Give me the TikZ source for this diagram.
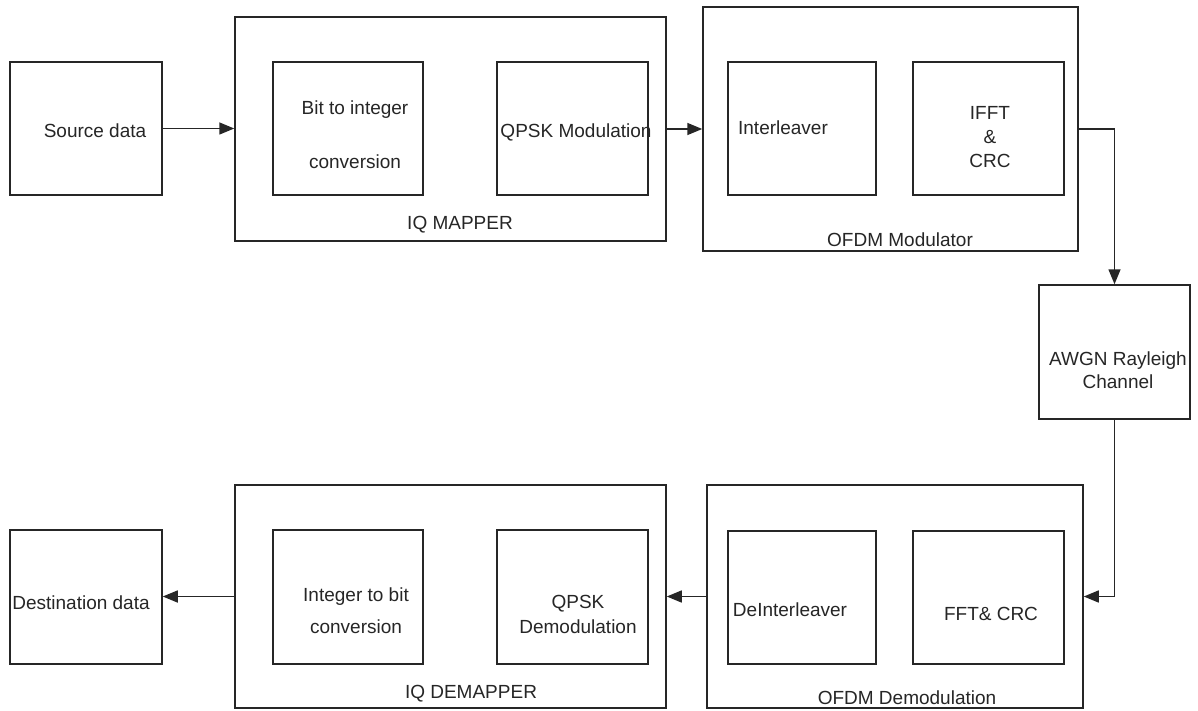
\documentclass[tikz,border=0pt]{standalone}
\usepackage{fontspec}
\setmainfont{Liberation Sans}
\usetikzlibrary{arrows.meta}

\tikzset{
  blk/.style={draw=black!85,line width=1.5pt,inner sep=0pt},
  txt/.style={font=\fontsize{19}{23}\selectfont,text=black!85,inner sep=0pt,align=center},
  flow/.style={draw=black!85,line width=1.5pt,-{Triangle[length=15pt,width=12pt]}}
}

\begin{document}
\begin{tikzpicture}[x=1pt,y=-1pt]
      \useasboundingbox[fill=white] (0,0) rectangle (1198,711);

      % transmitter
      \node[blk,minimum width=152,minimum height=133] (src) at (86,128.5) {};
      \node[blk,minimum width=431,minimum height=224] (iqm) at (450.5,129) {};
      \node[blk,minimum width=150,minimum height=133] (b2i) at (348,128.5) {};
      \node[blk,minimum width=151,minimum height=133] (qpsk) at (572.5,128.5) {};
      \node[blk,minimum width=375,minimum height=244] (ofdm) at (890.5,129) {};
      \node[blk,minimum width=148,minimum height=133] (intl) at (802,128.5) {};
      \node[blk,minimum width=151,minimum height=133] (ifft) at (988.5,128.5) {};

      % channel
      \node[blk,minimum width=151,minimum height=134] (chan) at (1114.5,352) {};

      % receiver
      \node[blk,minimum width=152,minimum height=134] (dst) at (86,597) {};
      \node[blk,minimum width=431,minimum height=223] (iqd) at (450.5,596.5) {};
      \node[blk,minimum width=150,minimum height=134] (i2b) at (348,597) {};
      \node[blk,minimum width=151,minimum height=134] (qdem) at (572.5,597) {};
      \node[blk,minimum width=376,minimum height=223] (ofdmd) at (895,596.5) {};
      \node[blk,minimum width=148,minimum height=133] (dintl) at (802,597.5) {};
      \node[blk,minimum width=151,minimum height=133] (fft) at (988.5,597.5) {};

      % texts
      \node[txt] (srcT) at (95,131) {Source data};
      \node[txt] (b2iT) at (355,135) {Bit to integer\\[31pt]conversion};
      \node[txt] (qpskT) at (576,132) {QPSK Modulation};
      \node[txt] (iqmT) at (460,225) {IQ MAPPER};
      \node[txt] (intlT) at (783,128) {Interleaver};
      \node[txt] (ifftT) at (990,137) {IFFT\\[1pt]\&\\[1pt]CRC};
      \node[txt] (ofdmT) at (900,240) {OFDM Modulator};
      \node[txt] (chanT) at (1118,370) {AWGN Rayleigh\\Channel};
      \node[txt] (dstT) at (81,603) {Destination data};
      \node[txt] (i2bT) at (356,611) {Integer to bit\\[9pt]conversion};
      \node[txt] (qdemT) at (578,614) {QPSK\\[2pt]Demodulation};
      \node[txt] (iqdT) at (471,694) {IQ DEMAPPER};
      \node[txt] (dintlT) at (790,610) {DeInterleaver};
      \node[txt] (fftT) at (991,614) {FFT\& CRC};
      \node[txt] (ofdmdT) at (907,698) {OFDM Demodulation};

      % connectors
      \draw[flow] (src.east) -- (src.east -| iqm.west);
      \draw[flow] (iqm.east) -- (iqm.east -| ofdm.west);
      \draw[flow] (ofdm.east) -| (chan.north);
      \draw[flow] (chan.south) |- (ofdmd.east);
      \draw[flow] (ofdmd.west) -- (ofdmd.west -| iqd.east);
      \draw[flow] (iqd.west) -- (iqd.west -| dst.east);
    \end{tikzpicture}
\end{document}
